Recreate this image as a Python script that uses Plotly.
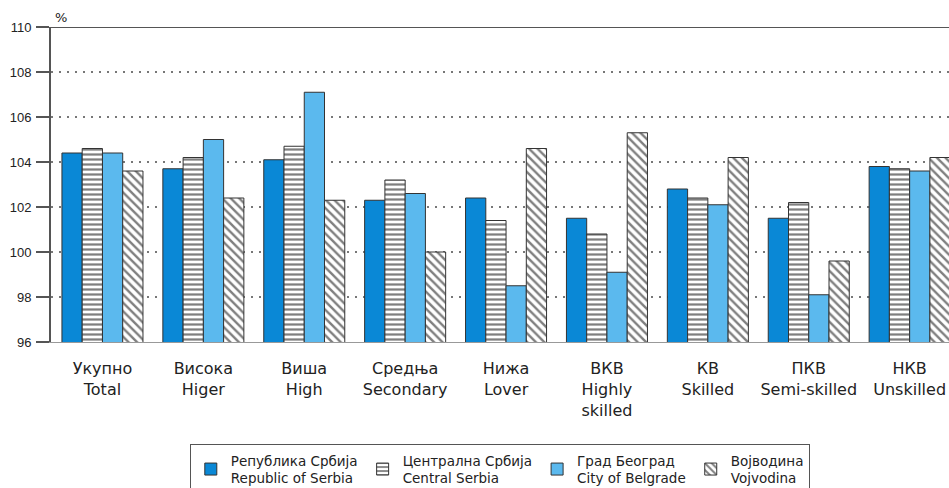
import plotly.graph_objects as go

categories = ["Укупно<br>Total", "Висока<br>Higer", "Виша<br>High", "Средња<br>Secondary",
              "Нижа<br>Lover", "ВКВ<br>Highly<br>skilled", "КВ<br>Skilled",
              "ПКВ<br>Semi-skilled", "НКВ<br>Unskilled"]
serbia = [104.4, 103.7, 104.1, 102.3, 102.4, 101.5, 102.8, 101.5, 103.8]
central = [104.6, 104.2, 104.7, 103.2, 101.4, 100.8, 102.4, 102.2, 103.7]
belgrade = [104.4, 105.0, 107.1, 102.6, 98.5, 99.1, 102.1, 98.1, 103.6]
vojvodina = [103.6, 102.4, 102.3, 100.0, 104.6, 105.3, 104.2, 99.6, 104.2]
names = ["Република Србија<br>Republic of Serbia", "Централна Србија<br>Central Serbia",
         "Град Београд<br>City of Belgrade", "Војводина<br>Vojvodina"]
y_ticks = [96, 98, 100, 102, 104, 106, 108, 110]

x = list(range(len(categories)))
line = dict(color="#333333", width=1)
fig = go.Figure()
fig.add_bar(x=x, y=serbia, name=names[0], marker=dict(color="#0a88d6", line=line))
fig.add_bar(x=x, y=central, name=names[1],
            marker=dict(color="white", line=line,
                        pattern=dict(shape="-", fgcolor="#000000", bgcolor="white", size=5, solidity=0.45)))
fig.add_bar(x=x, y=belgrade, name=names[2], marker=dict(color="#5bb9ee", line=line))
fig.add_bar(x=x, y=vojvodina, name=names[3],
            marker=dict(color="white", line=line,
                        pattern=dict(shape="\\", fgcolor="#000000", bgcolor="white", size=6, solidity=0.4)))

fig.update_layout(
    width=949, height=488,
    margin=dict(l=51, r=0, t=27, b=146),
    plot_bgcolor="white", paper_bgcolor="white",
    barmode="group", bargap=0.197, bargroupgap=0,
    font=dict(family="DejaVu Sans, Liberation Sans, sans-serif", color="#222222"),
    showlegend=True,
    legend=dict(orientation="h", xref="container", yref="container",
                x=0.2, xanchor="left", y=1 - 444 / 488, yanchor="top",
                bordercolor="#555555", borderwidth=1, font=dict(size=13.5),
                traceorder="normal", itemwidth=30, tracegroupgap=0),
    xaxis=dict(tickvals=x, ticktext=categories, range=[-0.51, 8.39],
               showgrid=False, showline=True, linecolor="#999999", linewidth=1,
               ticks="", tickfont=dict(size=16), ticklabelstandoff=12),
    yaxis=dict(range=[96, 110], tickvals=y_ticks, ticktext=[str(v) for v in y_ticks],
               showgrid=True, gridcolor="#777777", gridwidth=1.5, griddash="2px,6px",
               showline=True, linecolor="#555555", linewidth=2,
               ticks="outside", ticklen=13, tickcolor="#555555", tickwidth=2,
               tickfont=dict(size=13, family="Liberation Sans, Arial, sans-serif"),
               zeroline=False, ticklabelstandoff=2),
)
fig.add_shape(type="line", xref="paper", yref="y", x0=-13/898, x1=1, y0=110, y1=110,
              line=dict(color="#555555", width=2))
fig.add_annotation(text="%", xref="paper", yref="paper", x=0.002, y=1, xanchor="left",
                   yanchor="bottom", showarrow=False, font=dict(size=13))
fig.write_html("out.html", config={"displayModeBar": False},
               post_script="document.body.style.margin='0';")
